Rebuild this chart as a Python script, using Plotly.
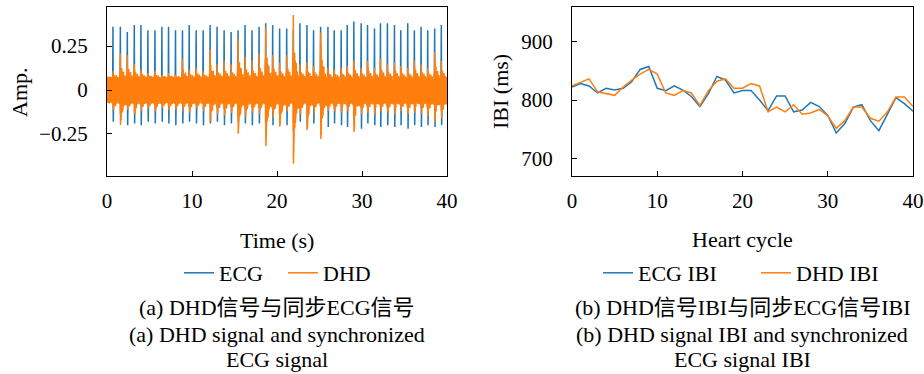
import plotly.graph_objects as go

# ---------------- data ----------------
# Panel (a): ECG R-peak times (s), R amplitudes, S-trough amplitudes
ecg_r_time = [0.70, 1.57, 2.39, 3.21, 3.99, 4.81, 5.64, 6.46, 7.24, 8.06,
              8.88, 9.67, 10.49, 11.31, 12.13, 12.95, 13.78, 14.60, 15.42, 16.24,
              17.06, 17.89, 18.67, 19.49, 20.31, 21.14, 21.92, 22.70, 23.52, 24.30,
              25.13, 25.99, 26.73, 27.55, 28.26, 29.04, 29.90, 30.65, 31.47, 32.17,
              32.99, 33.82, 34.56, 35.38, 36.16, 36.95, 37.73, 38.55, 39.33]
ecg_r_amp = [0.36, 0.36, 0.33, 0.37, 0.37, 0.34, 0.34, 0.36, 0.36, 0.34,
             0.34, 0.37, 0.34, 0.34, 0.37, 0.36, 0.34, 0.33, 0.34, 0.37,
             0.34, 0.36, 0.38, 0.37, 0.35, 0.35, 0.34, 0.38, 0.37, 0.34,
             0.36, 0.36, 0.34, 0.34, 0.37, 0.39, 0.38, 0.37, 0.35, 0.38,
             0.38, 0.37, 0.34, 0.38, 0.34, 0.36, 0.34, 0.35, 0.37]
ecg_s_amp = [-0.18, -0.17, -0.20, -0.19, -0.20, -0.18, -0.19, -0.18, -0.19, -0.20,
             -0.19, -0.18, -0.19, -0.20, -0.19, -0.18, -0.20, -0.19, -0.18, -0.19,
             -0.20, -0.19, -0.18, -0.20, -0.19, -0.20, -0.19, -0.18, -0.20, -0.19,
             -0.20, -0.21, -0.19, -0.20, -0.21, -0.20, -0.22, -0.19, -0.20, -0.21,
             -0.20, -0.21, -0.20, -0.22, -0.20, -0.21, -0.20, -0.21, -0.20]
# Panel (a): DHD burst maxima / minima for each heart beat, and background band level
dhd_max = [0.10, 0.20, 0.19, 0.14, 0.11, 0.09, 0.10, 0.08, 0.09, 0.08,
           0.17, 0.11, 0.12, 0.10, 0.22, 0.14, 0.16, 0.14, 0.28, 0.18,
           0.16, 0.20, 0.35, 0.19, 0.15, 0.19, 0.42, 0.14, 0.15, 0.13,
           0.32, 0.12, 0.11, 0.12, 0.13, 0.16, 0.12, 0.16, 0.12, 0.17,
           0.14, 0.15, 0.13, 0.12, 0.16, 0.14, 0.12, 0.21, 0.16]
dhd_min = [-0.12, -0.22, -0.12, -0.15, -0.13, -0.11, -0.13, -0.11, -0.12, -0.12,
           -0.13, -0.14, -0.11, -0.13, -0.20, -0.15, -0.16, -0.14, -0.27, -0.17,
           -0.14, -0.15, -0.34, -0.17, -0.23, -0.13, -0.44, -0.15, -0.25, -0.14,
           -0.30, -0.13, -0.13, -0.14, -0.13, -0.26, -0.15, -0.14, -0.15, -0.13,
           -0.14, -0.15, -0.13, -0.15, -0.14, -0.15, -0.16, -0.20, -0.18]
dhd_band = 0.07
burst_shape = [0.15, 0.45, 1.0, 0.8, 0.5, 0.35, 0.4, 0.25, 0.3, 0.18,
               0.12, 0.22, 0.1, 0.06, 0.15, 0.08, 0.04, 0.1, 0.02, 0.05]
band_shape = [1.0, 0.75, 1.1, 0.85, 0.95, 0.7, 1.05, 0.8, 0.9, 1.0,
              0.65, 1.1, 0.8, 0.95, 0.75, 1.05, 0.85, 0.7, 1.0, 0.9]

# Panel (b): inter-beat intervals (ms) per heart cycle
cycles = list(range(41))
ecg_ibi = [822, 828, 824, 812, 820, 817, 820, 831, 852, 857,
           820, 816, 824, 817, 806, 789, 811, 840, 834, 812,
           816, 816, 800, 782, 807, 807, 780, 783, 796, 789,
           774, 744, 760, 788, 792, 765, 748, 777, 804, 794, 781]
dhd_ibi = [824, 830, 836, 814, 811, 808, 822, 834, 844, 852,
           844, 812, 808, 816, 812, 791, 816, 832, 836, 820,
           820, 828, 824, 780, 788, 780, 792, 776, 778, 784,
           773, 752, 765, 788, 788, 769, 764, 780, 805, 805, 789]

BLUE = "#1f77b4"
ORANGE = "#ff7f0e"
FONT = "Liberation Serif, 'Noto Sans CJK SC', serif"

# ---------------- build signal traces from the read values ----------------
ecg_t, ecg_v = [0.0], [0.0]
for t, r, s in zip(ecg_r_time, ecg_r_amp, ecg_s_amp):
    ecg_t += [t - 0.25, t - 0.15, t - 0.04, t, t + 0.04, t + 0.09, t + 0.28, t + 0.42]
    ecg_v += [0.0, 0.025, -0.04, r, s, 0.0, 0.05, 0.0]
ecg_t.append(40.0)
ecg_v.append(0.0)

dhd_t, dhd_v = [], []
seg_start = [0.0] + [t - 0.08 for t in ecg_r_time]
seg_end = [t - 0.08 for t in ecg_r_time] + [40.0]
n = len(burst_shape)
for i, (a, b) in enumerate(zip(seg_start, seg_end)):
    if i == 0:
        pk, tr = dhd_band, -dhd_band
    else:
        pk, tr = dhd_max[i - 1], dhd_min[i - 1]
    step = (b - a) / (2 * n)
    for k in range(n):
        w = burst_shape[k] if i > 0 else 0.0
        up = dhd_band * band_shape[k] + (pk - dhd_band) * w
        dn = -dhd_band * band_shape[(k + 3) % n] + (tr + dhd_band) * w
        dhd_t += [a + (2 * k) * step, a + (2 * k + 1) * step]
        dhd_v += [up, dn]

fig = go.Figure()
fig.add_trace(go.Scatter(x=ecg_t, y=ecg_v, mode="lines", name="ECG",
                         line=dict(color=BLUE, width=1.5), xaxis="x", yaxis="y",
                         legend="legend"))
fig.add_trace(go.Scatter(x=dhd_t, y=dhd_v, mode="lines", name="DHD",
                         line=dict(color=ORANGE, width=1.5), xaxis="x", yaxis="y",
                         legend="legend"))
fig.add_trace(go.Scatter(x=cycles, y=ecg_ibi, mode="lines", name="ECG IBI",
                         line=dict(color=BLUE, width=1.5), xaxis="x2", yaxis="y2",
                         legend="legend2"))
fig.add_trace(go.Scatter(x=cycles, y=dhd_ibi, mode="lines", name="DHD IBI",
                         line=dict(color=ORANGE, width=1.5), xaxis="x2", yaxis="y2",
                         legend="legend2"))

W, H = 924, 374
def px(x):
    return x / W
def py(y):
    return (H - y) / H

axis_common = dict(showline=True, linecolor="black", linewidth=1.3, mirror=True,
                   ticks="inside", ticklen=5, tickwidth=1, tickcolor="black",
                   showgrid=False, zeroline=False, automargin=False,
                   tickfont=dict(family=FONT, size=21, color="black"))

fig.update_layout(
    template="none",
    width=W, height=H, margin=dict(l=0, r=0, t=0, b=0, pad=0),
    paper_bgcolor="white", plot_bgcolor="white",
    font=dict(family=FONT, size=21, color="black"),
    xaxis=dict(domain=[px(107), px(447)], anchor="y", range=[0, 40],
               tickvals=[0, 10, 20, 30, 40], ticklabelstandoff=6, **axis_common),
    yaxis=dict(domain=[py(176), py(7)], anchor="x", range=[-0.489, 0.472],
               tickvals=[-0.25, 0, 0.25], ticktext=["−0.25", "0", "0.25"],
               ticklabelstandoff=14, **axis_common),
    xaxis2=dict(domain=[px(572), px(913)], anchor="y2", range=[0, 40],
                tickvals=[0, 10, 20, 30, 40], ticklabelstandoff=6, **axis_common),
    yaxis2=dict(domain=[py(176), py(7)], anchor="x2", range=[671, 958],
                tickvals=[700, 800, 900], ticklabelstandoff=14, **axis_common),
    legend=dict(orientation="h", x=px(179), xanchor="left", y=py(273), yanchor="middle",
                font=dict(family=FONT, size=22, color="black"), bgcolor="rgba(0,0,0,0)",
                itemwidth=30, entrywidth=59),
    legend2=dict(orientation="h", x=px(598), xanchor="left", y=py(273), yanchor="middle",
                 font=dict(family=FONT, size=22, color="black"), bgcolor="rgba(0,0,0,0)",
                 itemwidth=30, entrywidth=113),
    showlegend=True,
)

# axis titles
axis_titles = [
    (277, 240, 0, "Time (s)"),
    (742, 239, 0, "Heart cycle"),
    (19, 92, -90, "Amp."),
    (500, 92, -90, "IBI (ms)"),
]
for x, y, ang, txt in axis_titles:
    fig.add_annotation(x=px(x), y=py(y), xref="paper", yref="paper", text=txt,
                       showarrow=False, xanchor="center", yanchor="middle", textangle=ang,
                       font=dict(family=FONT, size=22, color="black"))

captions = [
    (277, 307, "(a) DHD信号与同步ECG信号"),
    (277, 334, "(a) DHD signal and synchronized"),
    (277, 359, "ECG signal"),
    (742, 307, "(b) DHD信号IBI与同步ECG信号IBI"),
    (742, 334, "(b) DHD signal IBI and synchronized"),
    (742, 359, "ECG signal IBI"),
]
for x, y, txt in captions:
    fig.add_annotation(x=px(x), y=py(y), xref="paper", yref="paper", text=txt,
                       showarrow=False, xanchor="center", yanchor="middle",
                       font=dict(family=FONT, size=22, color="black"))

fig.write_html("out.html")
